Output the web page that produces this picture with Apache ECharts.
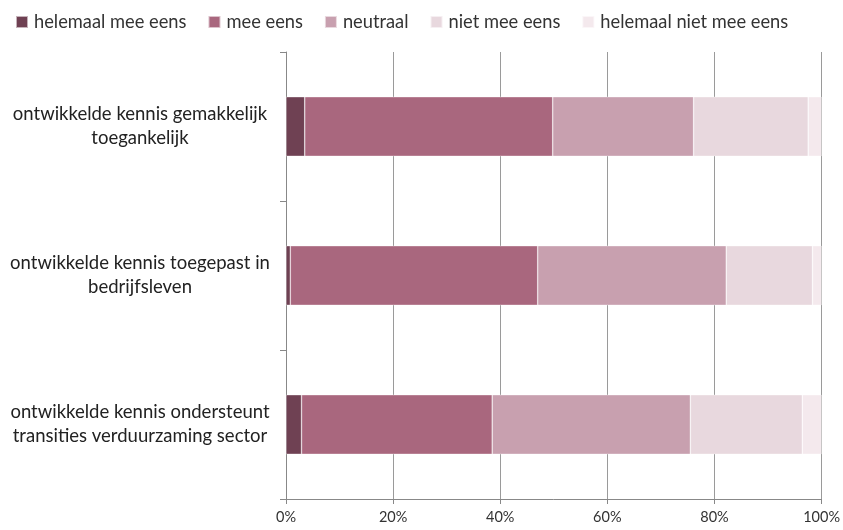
<!DOCTYPE html>
<html><head><meta charset="utf-8">
<script src="https://cdn.jsdelivr.net/npm/echarts@6/dist/echarts.min.js"></script>
<style>html,body{margin:0;padding:0;background:#fff}#c{width:843px;height:530px}</style>
</head><body><div id="c"></div>
<script>
var categories = [
  "ontwikkelde kennis gemakkelijk\ntoegankelijk",
  "ontwikkelde kennis toegepast in\nbedrijfsleven",
  "ontwikkelde kennis ondersteunt\ntransities verduurzaming sector"
];
var seriesNames = ["helemaal mee eens","mee eens","neutraal","niet mee eens","helemaal niet mee eens"];
var helemaalMeeEens = [3.5, 0.8, 2.9];
var meeEens = [46.3, 46.2, 35.6];
var neutraal = [26.3, 35.2, 37.0];
var nietMeeEens = [21.4, 16.1, 20.9];
var helemaalNietMeeEens = [2.5, 1.7, 3.6];
var xTicks = [0, 20, 40, 60, 80, 100];
var colors = ["#6F4153","#A9677E","#C8A0AF","#E8D8DE","#F4E9ED"];

var values = [helemaalMeeEens, meeEens, neutraal, nietMeeEens, helemaalNietMeeEens];
var font = "Lato, 'Open Sans', sans-serif";
var chart = echarts.init(document.getElementById('c'), null, {renderer:'canvas'});
chart.setOption({
  animation:false,
  color: colors,
  textStyle:{fontFamily:font},
  legend:{
    left:15, top:13, itemWidth:12, itemHeight:12, itemGap:21,
    icon:'rect', padding:0,
    textStyle:{fontSize:18.3, color:'#333', fontFamily:font, padding:[0,0,0,1]},
    data: seriesNames
  },
  grid:{left:286, right:19, top:52, bottom:31, containLabel:false},
  xAxis:{
    type:'value', min:xTicks[0], max:xTicks[xTicks.length-1], interval:20,
    axisLine:{show:true, lineStyle:{color:'#888', width:1}},
    axisTick:{show:true, length:5, lineStyle:{color:'#888'}},
    splitLine:{show:true, lineStyle:{color:'#9a9a9a', width:1}},
    axisLabel:{formatter:'{value}%', fontSize:14.5, color:'#333', margin:11, fontFamily:font}
  },
  yAxis:{
    type:'category', data:categories, inverse:true,
    axisLine:{show:true, lineStyle:{color:'#888', width:1}},
    axisTick:{show:true, length:6, lineStyle:{color:'#888'}},
    axisLabel:{align:'center', margin:146, fontSize:18.5, lineHeight:24, color:'#222', fontFamily:font,
               padding:[4,0,0,0]}
  },
  series: seriesNames.map(function(n,i){
    return {
      name:n, type:'bar', stack:'total', barCategoryGap:'60%',
      data: values[i],
      itemStyle:{color:colors[i], borderColor:'rgba(255,255,255,0.6)', borderWidth:0.6}
    };
  })
});
</script></body></html>
